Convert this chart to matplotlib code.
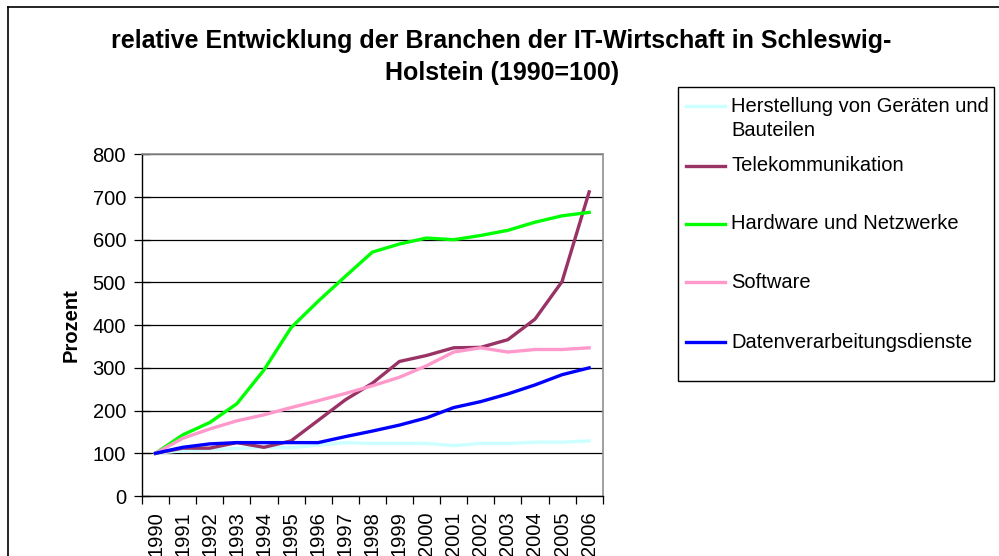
import matplotlib
matplotlib.use("Agg")
from matplotlib import pyplot as plt
from matplotlib.lines import Line2D
from matplotlib.patches import Rectangle

plt.rcParams['font.family'] = ['Liberation Sans', 'DejaVu Sans']

# data (1990 = 100)
years = ["1990", "1991", "1992", "1993", "1994", "1995", "1996", "1997", "1998",
         "1999", "2000", "2001", "2002", "2003", "2004", "2005", "2006"]

herstellung = [100, 106, 109, 111, 114, 113, 119, 125, 123, 123, 123, 118, 123, 123, 126, 126, 129]
telekom = [100, 112, 112, 125, 114, 129, 177, 225, 264, 315, 329, 347, 348, 366, 414, 502, 712]
hardware = [100, 143, 172, 216, 295, 394, 456, 514, 571, 590, 604, 600, 610, 622, 641, 656, 664]
software = [100, 135, 157, 176, 190, 207, 223, 240, 258, 278, 305, 337, 347, 337, 343, 343, 347]
datenverarbeitung = [100, 114, 122, 125, 125, 125, 125, 139, 152, 166, 183, 207, 221, 239, 260, 284, 300]

labels = ["Herstellung von Geräten und\nBauteilen", "Telekommunikation",
          "Hardware und Netzwerke", "Software", "Datenverarbeitungsdienste"]
colors = ["#ccffff", "#993366", "#00ff00", "#ff99cc", "#0000ff"]
series = [herstellung, telekom, hardware, software, datenverarbeitung]

W, H = 999, 556
fig = plt.figure(figsize=(W / 100, H / 100), dpi=100)

def fx(px):
    return px / W

def fy(py):
    return 1 - py / H

# outer chart frame (only left and top visible)
fig.add_artist(Line2D([fx(8), fx(8)], [0, fy(7)], color="black", lw=1.2))
fig.add_artist(Line2D([fx(8), 1], [fy(7), fy(7)], color="black", lw=1.2))

ax = fig.add_axes([fx(142), fy(496), fx(602.7) - fx(142), fy(154.3) - fy(496)])

x = list(range(len(years)))
for vals, c in zip(series, colors):
    ax.plot(x, vals, color=c, lw=2.4, solid_joinstyle="miter")

ax.set_xlim(-0.5, len(years) - 0.5)
ax.set_ylim(0, 800)
ax.set_yticks(range(0, 801, 100))
ax.yaxis.grid(True, color="black", lw=0.9)
ax.set_axisbelow(True)

ax.set_xticks([i - 0.5 for i in range(len(years) + 1)])
ax.set_xticklabels([])
ax.set_xticks(x, minor=True)
ax.set_xticklabels(years, minor=True, rotation=90, fontsize=14.5)
ax.tick_params(axis="x", which="major", direction="out", length=6, width=0.9)
ax.tick_params(axis="x", which="minor", length=0, pad=11)
ax.tick_params(axis="y", direction="inout", length=11, width=0.9, pad=6, labelsize=14.5)

for s in ["top", "right"]:
    ax.spines[s].set_color("#909090")
    ax.spines[s].set_linewidth(1.2)
for s in ["left", "bottom"]:
    ax.spines[s].set_color("black")
    ax.spines[s].set_linewidth(1.0)

fig.text(fx(71), fy(325), "Prozent", rotation=90, ha="center", va="center",
         fontsize=14.5, fontweight="bold")

# title
fig.text(fx(501), fy(41), "relative Entwicklung der Branchen der IT-Wirtschaft in Schleswig-",
         ha="center", va="center", fontsize=18, fontweight="bold")
fig.text(fx(502), fy(73), "Holstein (1990=100)",
         ha="center", va="center", fontsize=18, fontweight="bold")

# legend box
fig.add_artist(Rectangle((fx(678), fy(381)), fx(994) - fx(678), fy(87) - fy(381),
                         transform=fig.transFigure, facecolor="white",
                         edgecolor="black", lw=1.0))
entry_y = [106, 166, 224, 282, 342]
for lab, c, yy in zip(labels, colors, entry_y):
    fig.add_artist(Line2D([fx(686), fx(725)], [fy(yy), fy(yy)], color=c, lw=2.4))
    for k, part in enumerate(lab.split("\n")):
        fig.text(fx(731), fy(yy + 24 * k), part, ha="left", va="center", fontsize=14.5)

fig.savefig("out.png", dpi=100)
